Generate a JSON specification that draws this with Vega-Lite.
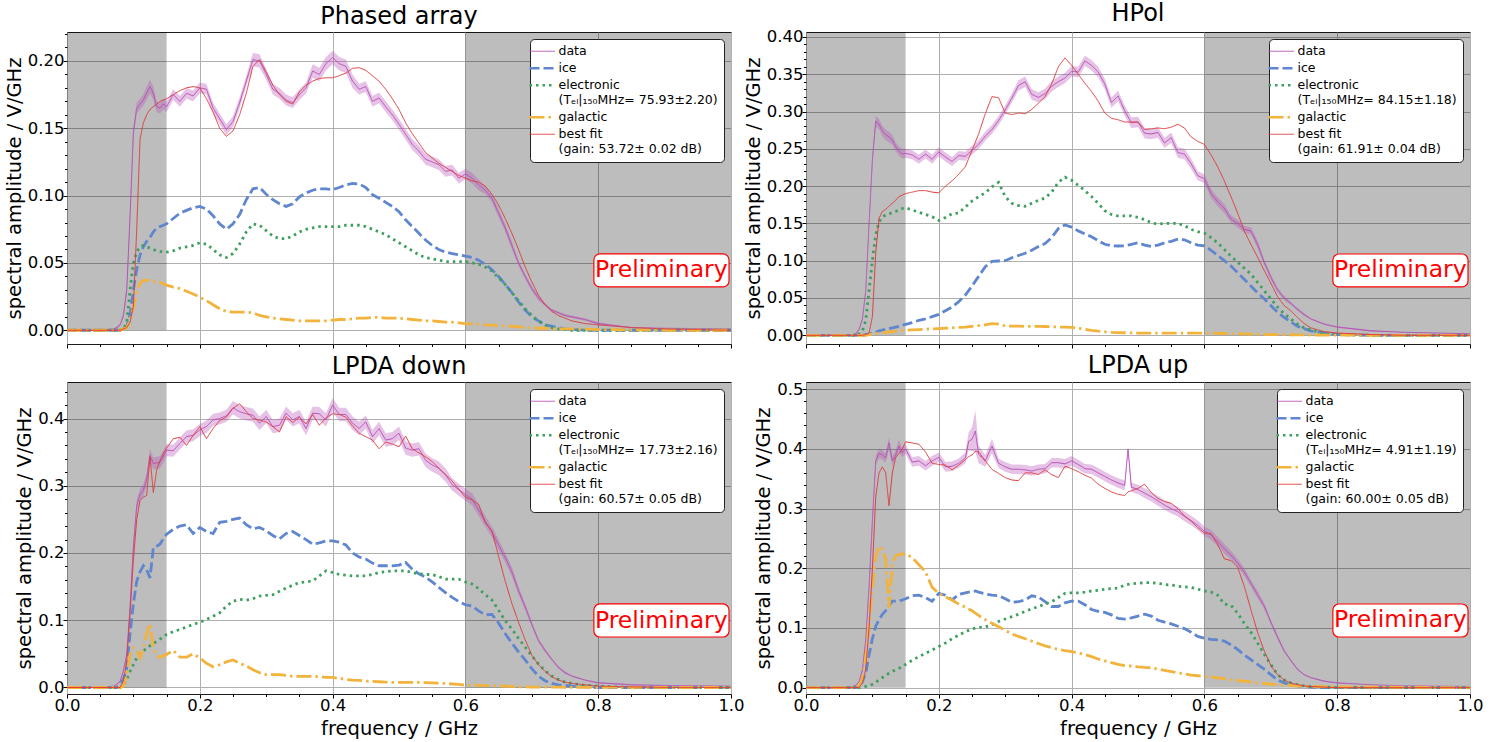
{
"$schema":"https://vega.github.io/schema/vega-lite/v6.json",
"background":"white",
"padding":{"left":3,"top":1,"right":5,"bottom":0},
"columns":2,
"spacing":{"row":38,"column":75},
"bounds":"flush",
"resolve":{"scale":{"color":"independent","strokeDash":"independent"},"legend":{"color":"independent","strokeDash":"independent"}},
"config":{
"font":"DejaVu Sans",
"view":{"stroke":"#1c1c1c","strokeWidth":1},
"axis":{"labelFont":"DejaVu Sans","labelFontSize":16.5,"labelColor":"black","titleFont":"DejaVu Sans","titleFontSize":19.5,"titleFontWeight":"normal","titleColor":"black","tickColor":"black","tickWidth":1,"domain":false,"labelOverlap":false,"labelFlush":false,"gridWidth":1},
"axisX":{"titlePadding":6,"labelPadding":-1},
"axisY":{"titlePadding":3,"labelPadding":-1},
"title":{"font":"DejaVu Sans","fontSize":24,"fontWeight":"normal","color":"black","offset":3,"baseline":"alphabetic"},
"legend":{"orient":"top-right","offset":7,"fillColor":"white","strokeColor":"#222","cornerRadius":4,"padding":6,"symbolType":"stroke","symbolSize":650,"labelFont":"DejaVu Sans","labelFontSize":12.5,"labelColor":"black","rowPadding":4,"labelOffset":10,"labelLimit":400}
},
"datasets":{
"spans":[{"x1":0,"x2":0.15,"y1":0,"y2":1},{"x1":0.6,"x2":1,"y1":0,"y2":1}],
"pa":[
{"f":0,"d":0,"s":0,"i":0,"e":0,"g":0,"b":0},
{"f":0.04,"d":0,"s":0,"i":0,"e":0,"g":0,"b":0},
{"f":0.06,"d":0.0005,"s":0,"i":0,"e":0,"g":0,"b":0},
{"f":0.07,"d":0.001,"s":0,"i":0,"e":0,"g":0,"b":0},
{"f":0.075,"d":0.002,"s":0.001,"i":0,"e":0,"g":0,"b":0},
{"f":0.08,"d":0.004,"s":0.001,"i":0,"e":0,"g":0,"b":0},
{"f":0.085,"d":0.011,"s":0.002,"i":0.001,"e":0.001,"g":0.001,"b":0.001},
{"f":0.09,"d":0.03,"s":0.003,"i":0.003,"e":0.006,"g":0.002,"b":0.002},
{"f":0.095,"d":0.085,"s":0.004,"i":0.012,"e":0.03,"g":0.007,"b":0.006},
{"f":0.1,"d":0.147,"s":0.004,"i":0.03,"e":0.05,"g":0.017,"b":0.018},
{"f":0.105,"d":0.165,"s":0.004,"i":0.045,"e":0.058,"g":0.028,"b":0.075},
{"f":0.11,"d":0.168,"s":0.004,"i":0.056,"e":0.062,"g":0.035,"b":0.142},
{"f":0.115,"d":0.171,"s":0.004,"i":0.062,"e":0.063,"g":0.037,"b":0.154},
{"f":0.12,"d":0.176,"s":0.005,"i":0.066,"e":0.062,"g":0.037,"b":0.16},
{"f":0.125,"d":0.181,"s":0.005,"i":0.069,"e":0.061,"g":0.037,"b":0.164},
{"f":0.13,"d":0.176,"s":0.005,"i":0.073,"e":0.06,"g":0.0365,"b":0.166},
{"f":0.135,"d":0.166,"s":0.004,"i":0.076,"e":0.059,"g":0.036,"b":0.168},
{"f":0.14,"d":0.165,"s":0.004,"i":0.077,"e":0.0585,"g":0.0355,"b":0.17},
{"f":0.145,"d":0.168,"s":0.004,"i":0.078,"e":0.058,"g":0.0345,"b":0.171},
{"f":0.15,"d":0.166,"s":0.004,"i":0.079,"e":0.058,"g":0.0335,"b":0.172},
{"f":0.16,"d":0.175,"s":0.004,"i":0.083,"e":0.059,"g":0.032,"b":0.175},
{"f":0.17,"d":0.17,"s":0.004,"i":0.087,"e":0.061,"g":0.031,"b":0.178},
{"f":0.18,"d":0.176,"s":0.004,"i":0.089,"e":0.062,"g":0.029,"b":0.18},
{"f":0.19,"d":0.174,"s":0.004,"i":0.091,"e":0.063,"g":0.027,"b":0.181},
{"f":0.2,"d":0.18,"s":0.004,"i":0.092,"e":0.065,"g":0.0245,"b":0.18},
{"f":0.21,"d":0.179,"s":0.004,"i":0.09,"e":0.064,"g":0.022,"b":0.172},
{"f":0.22,"d":0.165,"s":0.004,"i":0.085,"e":0.06,"g":0.019,"b":0.162},
{"f":0.23,"d":0.157,"s":0.004,"i":0.079,"e":0.056,"g":0.016,"b":0.15},
{"f":0.24,"d":0.149,"s":0.004,"i":0.075,"e":0.054,"g":0.014,"b":0.144},
{"f":0.25,"d":0.155,"s":0.004,"i":0.079,"e":0.057,"g":0.0135,"b":0.148},
{"f":0.26,"d":0.169,"s":0.004,"i":0.086,"e":0.064,"g":0.0135,"b":0.16},
{"f":0.27,"d":0.185,"s":0.004,"i":0.097,"e":0.073,"g":0.0135,"b":0.176},
{"f":0.28,"d":0.201,"s":0.005,"i":0.105,"e":0.079,"g":0.013,"b":0.196},
{"f":0.29,"d":0.2,"s":0.005,"i":0.106,"e":0.078,"g":0.011,"b":0.201},
{"f":0.3,"d":0.19,"s":0.004,"i":0.101,"e":0.074,"g":0.01,"b":0.192},
{"f":0.31,"d":0.179,"s":0.004,"i":0.097,"e":0.07,"g":0.009,"b":0.182},
{"f":0.32,"d":0.176,"s":0.004,"i":0.094,"e":0.068,"g":0.0085,"b":0.175},
{"f":0.33,"d":0.171,"s":0.004,"i":0.092,"e":0.068,"g":0.008,"b":0.17},
{"f":0.34,"d":0.169,"s":0.004,"i":0.094,"e":0.07,"g":0.0075,"b":0.168},
{"f":0.35,"d":0.175,"s":0.004,"i":0.099,"e":0.073,"g":0.007,"b":0.177},
{"f":0.36,"d":0.18,"s":0.004,"i":0.102,"e":0.075,"g":0.007,"b":0.182},
{"f":0.37,"d":0.1925,"s":0.005,"i":0.104,"e":0.076,"g":0.007,"b":0.185},
{"f":0.38,"d":0.19,"s":0.005,"i":0.105,"e":0.077,"g":0.007,"b":0.187},
{"f":0.39,"d":0.198,"s":0.005,"i":0.105,"e":0.077,"g":0.007,"b":0.1875},
{"f":0.4,"d":0.2025,"s":0.005,"i":0.1045,"e":0.077,"g":0.0075,"b":0.1875},
{"f":0.41,"d":0.198,"s":0.005,"i":0.106,"e":0.077,"g":0.008,"b":0.189},
{"f":0.42,"d":0.196,"s":0.005,"i":0.108,"e":0.078,"g":0.008,"b":0.191},
{"f":0.43,"d":0.185,"s":0.005,"i":0.109,"e":0.078,"g":0.0085,"b":0.1945},
{"f":0.44,"d":0.179,"s":0.004,"i":0.1087,"e":0.078,"g":0.009,"b":0.195},
{"f":0.45,"d":0.181,"s":0.004,"i":0.106,"e":0.077,"g":0.009,"b":0.193},
{"f":0.46,"d":0.17,"s":0.004,"i":0.1007,"e":0.075,"g":0.0095,"b":0.189},
{"f":0.47,"d":0.1725,"s":0.004,"i":0.098,"e":0.073,"g":0.0095,"b":0.185},
{"f":0.48,"d":0.166,"s":0.004,"i":0.095,"e":0.071,"g":0.009,"b":0.179},
{"f":0.49,"d":0.16,"s":0.004,"i":0.092,"e":0.068,"g":0.009,"b":0.172},
{"f":0.5,"d":0.153,"s":0.004,"i":0.088,"e":0.065,"g":0.009,"b":0.164},
{"f":0.51,"d":0.1455,"s":0.004,"i":0.082,"e":0.062,"g":0.0085,"b":0.154},
{"f":0.52,"d":0.138,"s":0.004,"i":0.077,"e":0.059,"g":0.008,"b":0.146},
{"f":0.53,"d":0.133,"s":0.004,"i":0.072,"e":0.056,"g":0.0075,"b":0.139},
{"f":0.54,"d":0.127,"s":0.004,"i":0.067,"e":0.054,"g":0.007,"b":0.132},
{"f":0.55,"d":0.125,"s":0.004,"i":0.063,"e":0.053,"g":0.007,"b":0.128},
{"f":0.56,"d":0.123,"s":0.004,"i":0.06,"e":0.052,"g":0.0065,"b":0.124},
{"f":0.57,"d":0.118,"s":0.004,"i":0.058,"e":0.051,"g":0.006,"b":0.121},
{"f":0.58,"d":0.119,"s":0.004,"i":0.057,"e":0.051,"g":0.006,"b":0.118},
{"f":0.59,"d":0.113,"s":0.004,"i":0.056,"e":0.051,"g":0.0055,"b":0.115},
{"f":0.6,"d":0.116,"s":0.004,"i":0.055,"e":0.051,"g":0.005,"b":0.113},
{"f":0.61,"d":0.113,"s":0.004,"i":0.054,"e":0.05,"g":0.0048,"b":0.111},
{"f":0.62,"d":0.108,"s":0.004,"i":0.052,"e":0.049,"g":0.0045,"b":0.11},
{"f":0.63,"d":0.104,"s":0.003,"i":0.049,"e":0.047,"g":0.004,"b":0.107},
{"f":0.64,"d":0.098,"s":0.003,"i":0.045,"e":0.044,"g":0.0038,"b":0.101},
{"f":0.65,"d":0.087,"s":0.003,"i":0.04,"e":0.039,"g":0.0035,"b":0.093},
{"f":0.66,"d":0.076,"s":0.003,"i":0.034,"e":0.034,"g":0.003,"b":0.083},
{"f":0.67,"d":0.063,"s":0.003,"i":0.028,"e":0.028,"g":0.003,"b":0.072},
{"f":0.68,"d":0.05,"s":0.002,"i":0.021,"e":0.022,"g":0.0025,"b":0.06},
{"f":0.69,"d":0.04,"s":0.002,"i":0.015,"e":0.016,"g":0.002,"b":0.047},
{"f":0.7,"d":0.031,"s":0.002,"i":0.01,"e":0.011,"g":0.002,"b":0.036},
{"f":0.71,"d":0.024,"s":0.002,"i":0.007,"e":0.007,"g":0.0015,"b":0.026},
{"f":0.72,"d":0.019,"s":0.001,"i":0.004,"e":0.004,"g":0.0015,"b":0.019},
{"f":0.73,"d":0.015,"s":0.001,"i":0.003,"e":0.002,"g":0.001,"b":0.014},
{"f":0.74,"d":0.013,"s":0.001,"i":0.002,"e":0.001,"g":0.001,"b":0.011},
{"f":0.75,"d":0.011,"s":0.001,"i":0.001,"e":0.0005,"g":0.001,"b":0.009},
{"f":0.76,"d":0.01,"s":0.001,"i":0.0005,"e":0,"g":0.001,"b":0.007},
{"f":0.78,"d":0.008,"s":0.001,"i":0,"e":0,"g":0.0008,"b":0.005},
{"f":0.8,"d":0.005,"s":0.001,"i":0,"e":0,"g":0.0005,"b":0.004},
{"f":0.85,"d":0.002,"s":0,"i":0,"e":0,"g":0.0003,"b":0.002},
{"f":0.9,"d":0.0015,"s":0,"i":0,"e":0,"g":0,"b":0.001},
{"f":1,"d":0.001,"s":0,"i":0,"e":0,"g":0,"b":0}
],
"hp":[
{"f":0,"d":0,"s":0,"i":0,"e":0,"g":0,"b":0},
{"f":0.04,"d":0,"s":0,"i":0,"e":0,"g":0,"b":0},
{"f":0.06,"d":0,"s":0,"i":0,"e":0,"g":0,"b":0},
{"f":0.07,"d":0.001,"s":0,"i":0,"e":0,"g":0,"b":0},
{"f":0.075,"d":0.002,"s":0.001,"i":0,"e":0,"g":0,"b":0},
{"f":0.08,"d":0.008,"s":0.001,"i":0,"e":0.002,"g":0,"b":0},
{"f":0.085,"d":0.022,"s":0.002,"i":0,"e":0.006,"g":0,"b":0},
{"f":0.09,"d":0.06,"s":0.003,"i":0.001,"e":0.02,"g":0,"b":0.001},
{"f":0.095,"d":0.15,"s":0.005,"i":0.002,"e":0.06,"g":0.001,"b":0.003},
{"f":0.1,"d":0.235,"s":0.006,"i":0.003,"e":0.1,"g":0.0015,"b":0.025},
{"f":0.105,"d":0.287,"s":0.007,"i":0.004,"e":0.135,"g":0.002,"b":0.11},
{"f":0.11,"d":0.283,"s":0.007,"i":0.006,"e":0.152,"g":0.003,"b":0.157},
{"f":0.115,"d":0.274,"s":0.007,"i":0.007,"e":0.159,"g":0.0035,"b":0.166},
{"f":0.12,"d":0.269,"s":0.007,"i":0.008,"e":0.161,"g":0.004,"b":0.169},
{"f":0.125,"d":0.266,"s":0.007,"i":0.009,"e":0.163,"g":0.0045,"b":0.173},
{"f":0.13,"d":0.262,"s":0.007,"i":0.01,"e":0.164,"g":0.005,"b":0.177},
{"f":0.135,"d":0.253,"s":0.006,"i":0.011,"e":0.166,"g":0.0055,"b":0.181},
{"f":0.14,"d":0.247,"s":0.006,"i":0.012,"e":0.168,"g":0.006,"b":0.186},
{"f":0.145,"d":0.243,"s":0.006,"i":0.0135,"e":0.17,"g":0.0063,"b":0.188},
{"f":0.15,"d":0.244,"s":0.006,"i":0.0147,"e":0.171,"g":0.0067,"b":0.19},
{"f":0.16,"d":0.242,"s":0.006,"i":0.017,"e":0.168,"g":0.0072,"b":0.192},
{"f":0.17,"d":0.236,"s":0.006,"i":0.02,"e":0.165,"g":0.0077,"b":0.194},
{"f":0.18,"d":0.243,"s":0.006,"i":0.022,"e":0.162,"g":0.0082,"b":0.194},
{"f":0.19,"d":0.236,"s":0.006,"i":0.025,"e":0.159,"g":0.0086,"b":0.192},
{"f":0.2,"d":0.246,"s":0.006,"i":0.028,"e":0.154,"g":0.009,"b":0.191},
{"f":0.21,"d":0.239,"s":0.006,"i":0.033,"e":0.158,"g":0.0095,"b":0.2},
{"f":0.22,"d":0.233,"s":0.006,"i":0.038,"e":0.163,"g":0.01,"b":0.207},
{"f":0.23,"d":0.241,"s":0.006,"i":0.045,"e":0.164,"g":0.0105,"b":0.216},
{"f":0.24,"d":0.24,"s":0.006,"i":0.054,"e":0.172,"g":0.011,"b":0.226},
{"f":0.25,"d":0.248,"s":0.006,"i":0.066,"e":0.18,"g":0.012,"b":0.248},
{"f":0.26,"d":0.256,"s":0.006,"i":0.079,"e":0.186,"g":0.013,"b":0.27},
{"f":0.27,"d":0.267,"s":0.006,"i":0.092,"e":0.191,"g":0.014,"b":0.297},
{"f":0.28,"d":0.276,"s":0.006,"i":0.099,"e":0.199,"g":0.0155,"b":0.32},
{"f":0.29,"d":0.288,"s":0.006,"i":0.0996,"e":0.205,"g":0.015,"b":0.3186},
{"f":0.3,"d":0.302,"s":0.006,"i":0.1,"e":0.186,"g":0.0125,"b":0.298},
{"f":0.31,"d":0.318,"s":0.006,"i":0.104,"e":0.177,"g":0.0123,"b":0.296},
{"f":0.32,"d":0.335,"s":0.007,"i":0.107,"e":0.174,"g":0.0122,"b":0.298},
{"f":0.33,"d":0.34,"s":0.007,"i":0.11,"e":0.173,"g":0.012,"b":0.297},
{"f":0.34,"d":0.323,"s":0.007,"i":0.114,"e":0.177,"g":0.012,"b":0.303},
{"f":0.35,"d":0.319,"s":0.007,"i":0.119,"e":0.181,"g":0.012,"b":0.311},
{"f":0.36,"d":0.324,"s":0.007,"i":0.123,"e":0.184,"g":0.0118,"b":0.32},
{"f":0.37,"d":0.334,"s":0.007,"i":0.131,"e":0.192,"g":0.0115,"b":0.337},
{"f":0.38,"d":0.34,"s":0.007,"i":0.143,"e":0.205,"g":0.011,"b":0.36},
{"f":0.39,"d":0.345,"s":0.007,"i":0.148,"e":0.212,"g":0.011,"b":0.372},
{"f":0.4,"d":0.354,"s":0.007,"i":0.145,"e":0.208,"g":0.0105,"b":0.362},
{"f":0.41,"d":0.353,"s":0.007,"i":0.14,"e":0.201,"g":0.0095,"b":0.35},
{"f":0.42,"d":0.368,"s":0.007,"i":0.136,"e":0.194,"g":0.008,"b":0.338},
{"f":0.43,"d":0.362,"s":0.007,"i":0.132,"e":0.186,"g":0.0065,"b":0.327},
{"f":0.44,"d":0.353,"s":0.007,"i":0.127,"e":0.177,"g":0.0055,"b":0.314},
{"f":0.45,"d":0.337,"s":0.007,"i":0.122,"e":0.167,"g":0.0047,"b":0.298},
{"f":0.46,"d":0.312,"s":0.007,"i":0.12,"e":0.162,"g":0.004,"b":0.291},
{"f":0.47,"d":0.321,"s":0.007,"i":0.1197,"e":0.16,"g":0.0036,"b":0.289},
{"f":0.48,"d":0.301,"s":0.007,"i":0.12,"e":0.16,"g":0.0034,"b":0.286},
{"f":0.49,"d":0.285,"s":0.007,"i":0.122,"e":0.16,"g":0.0032,"b":0.286},
{"f":0.5,"d":0.286,"s":0.007,"i":0.124,"e":0.158,"g":0.003,"b":0.286},
{"f":0.51,"d":0.271,"s":0.007,"i":0.121,"e":0.155,"g":0.003,"b":0.276},
{"f":0.52,"d":0.27,"s":0.007,"i":0.119,"e":0.151,"g":0.003,"b":0.277},
{"f":0.53,"d":0.272,"s":0.007,"i":0.121,"e":0.149,"g":0.003,"b":0.278},
{"f":0.54,"d":0.258,"s":0.007,"i":0.124,"e":0.15,"g":0.003,"b":0.277},
{"f":0.55,"d":0.265,"s":0.007,"i":0.126,"e":0.15,"g":0.003,"b":0.279},
{"f":0.56,"d":0.245,"s":0.007,"i":0.129,"e":0.15,"g":0.003,"b":0.283},
{"f":0.57,"d":0.243,"s":0.007,"i":0.128,"e":0.147,"g":0.003,"b":0.278},
{"f":0.58,"d":0.23,"s":0.007,"i":0.124,"e":0.142,"g":0.003,"b":0.266},
{"f":0.59,"d":0.214,"s":0.006,"i":0.121,"e":0.139,"g":0.003,"b":0.26},
{"f":0.6,"d":0.21,"s":0.006,"i":0.12,"e":0.137,"g":0.003,"b":0.256},
{"f":0.61,"d":0.19,"s":0.006,"i":0.114,"e":0.131,"g":0.0028,"b":0.242},
{"f":0.62,"d":0.179,"s":0.006,"i":0.107,"e":0.124,"g":0.0026,"b":0.226},
{"f":0.63,"d":0.17,"s":0.006,"i":0.1,"e":0.115,"g":0.0024,"b":0.207},
{"f":0.64,"d":0.156,"s":0.005,"i":0.093,"e":0.106,"g":0.0022,"b":0.186},
{"f":0.65,"d":0.15,"s":0.005,"i":0.084,"e":0.098,"g":0.002,"b":0.164},
{"f":0.66,"d":0.142,"s":0.005,"i":0.075,"e":0.09,"g":0.0018,"b":0.14},
{"f":0.67,"d":0.14,"s":0.005,"i":0.066,"e":0.082,"g":0.0016,"b":0.122},
{"f":0.68,"d":0.122,"s":0.005,"i":0.057,"e":0.071,"g":0.0014,"b":0.105},
{"f":0.69,"d":0.098,"s":0.004,"i":0.049,"e":0.06,"g":0.0012,"b":0.087},
{"f":0.7,"d":0.078,"s":0.004,"i":0.04,"e":0.049,"g":0.001,"b":0.07},
{"f":0.71,"d":0.061,"s":0.003,"i":0.031,"e":0.038,"g":0.001,"b":0.052},
{"f":0.72,"d":0.05,"s":0.003,"i":0.024,"e":0.029,"g":0.0008,"b":0.04},
{"f":0.73,"d":0.043,"s":0.002,"i":0.018,"e":0.022,"g":0.0007,"b":0.033},
{"f":0.74,"d":0.035,"s":0.002,"i":0.012,"e":0.015,"g":0.0006,"b":0.024},
{"f":0.75,"d":0.028,"s":0.002,"i":0.009,"e":0.01,"g":0.0005,"b":0.016},
{"f":0.76,"d":0.022,"s":0.001,"i":0.006,"e":0.007,"g":0.0004,"b":0.01},
{"f":0.78,"d":0.015,"s":0.001,"i":0.003,"e":0.003,"g":0.0003,"b":0.005},
{"f":0.8,"d":0.011,"s":0.001,"i":0.001,"e":0.001,"g":0.0002,"b":0.003},
{"f":0.85,"d":0.006,"s":0.001,"i":0,"e":0,"g":0,"b":0.001},
{"f":0.9,"d":0.004,"s":0,"i":0,"e":0,"g":0,"b":0},
{"f":1,"d":0.002,"s":0,"i":0,"e":0,"g":0,"b":0}
],
"ld":[
{"f":0,"d":0,"s":0,"i":0,"e":0,"g":0,"b":0},
{"f":0.04,"d":0,"s":0,"i":0,"e":0,"g":0,"b":0},
{"f":0.06,"d":0.001,"s":0,"i":0,"e":0,"g":0,"b":0},
{"f":0.07,"d":0.002,"s":0,"i":0,"e":0,"g":0,"b":0},
{"f":0.075,"d":0.005,"s":0.001,"i":0,"e":0,"g":0,"b":0},
{"f":0.08,"d":0.009,"s":0.001,"i":0.005,"e":0,"g":0,"b":0},
{"f":0.085,"d":0.025,"s":0.002,"i":0.012,"e":0.004,"g":0.002,"b":0.01},
{"f":0.09,"d":0.049,"s":0.003,"i":0.029,"e":0.012,"g":0.019,"b":0.04},
{"f":0.095,"d":0.12,"s":0.006,"i":0.08,"e":0.024,"g":0.05,"b":0.109},
{"f":0.1,"d":0.21,"s":0.008,"i":0.125,"e":0.034,"g":0.059,"b":0.19},
{"f":0.105,"d":0.27,"s":0.009,"i":0.158,"e":0.044,"g":0.055,"b":0.25},
{"f":0.11,"d":0.287,"s":0.009,"i":0.172,"e":0.049,"g":0.044,"b":0.278},
{"f":0.115,"d":0.293,"s":0.009,"i":0.181,"e":0.054,"g":0.06,"b":0.283},
{"f":0.12,"d":0.31,"s":0.009,"i":0.175,"e":0.0588,"g":0.08,"b":0.2855},
{"f":0.125,"d":0.345,"s":0.01,"i":0.163,"e":0.062,"g":0.095,"b":0.343},
{"f":0.13,"d":0.333,"s":0.009,"i":0.208,"e":0.065,"g":0.059,"b":0.29},
{"f":0.135,"d":0.334,"s":0.009,"i":0.21,"e":0.0688,"g":0.047,"b":0.323},
{"f":0.14,"d":0.335,"s":0.009,"i":0.213,"e":0.072,"g":0.045,"b":0.337},
{"f":0.145,"d":0.343,"s":0.009,"i":0.221,"e":0.075,"g":0.047,"b":0.348},
{"f":0.15,"d":0.353,"s":0.009,"i":0.228,"e":0.0788,"g":0.049,"b":0.356},
{"f":0.16,"d":0.352,"s":0.009,"i":0.235,"e":0.083,"g":0.055,"b":0.37},
{"f":0.17,"d":0.363,"s":0.009,"i":0.24,"e":0.0862,"g":0.045,"b":0.372},
{"f":0.18,"d":0.373,"s":0.009,"i":0.242,"e":0.09,"g":0.045,"b":0.36},
{"f":0.19,"d":0.375,"s":0.009,"i":0.229,"e":0.0937,"g":0.05,"b":0.375},
{"f":0.2,"d":0.383,"s":0.009,"i":0.238,"e":0.097,"g":0.044,"b":0.388},
{"f":0.21,"d":0.388,"s":0.009,"i":0.232,"e":0.1012,"g":0.036,"b":0.37},
{"f":0.22,"d":0.398,"s":0.009,"i":0.229,"e":0.106,"g":0.031,"b":0.385},
{"f":0.23,"d":0.4,"s":0.009,"i":0.2456,"e":0.111,"g":0.034,"b":0.397},
{"f":0.24,"d":0.404,"s":0.009,"i":0.247,"e":0.121,"g":0.038,"b":0.402},
{"f":0.25,"d":0.416,"s":0.01,"i":0.25,"e":0.128,"g":0.041,"b":0.415},
{"f":0.26,"d":0.41,"s":0.01,"i":0.252,"e":0.131,"g":0.036,"b":0.422},
{"f":0.27,"d":0.407,"s":0.01,"i":0.242,"e":0.13,"g":0.032,"b":0.41},
{"f":0.28,"d":0.405,"s":0.01,"i":0.236,"e":0.132,"g":0.0264,"b":0.4},
{"f":0.29,"d":0.393,"s":0.01,"i":0.238,"e":0.136,"g":0.022,"b":0.3976},
{"f":0.3,"d":0.403,"s":0.01,"i":0.233,"e":0.137,"g":0.019,"b":0.395},
{"f":0.31,"d":0.388,"s":0.01,"i":0.226,"e":0.138,"g":0.019,"b":0.388},
{"f":0.32,"d":0.39,"s":0.01,"i":0.221,"e":0.143,"g":0.019,"b":0.38},
{"f":0.33,"d":0.408,"s":0.01,"i":0.229,"e":0.148,"g":0.018,"b":0.4026},
{"f":0.34,"d":0.398,"s":0.01,"i":0.232,"e":0.152,"g":0.0165,"b":0.394},
{"f":0.35,"d":0.403,"s":0.01,"i":0.226,"e":0.156,"g":0.0165,"b":0.402},
{"f":0.36,"d":0.385,"s":0.01,"i":0.22,"e":0.157,"g":0.0165,"b":0.392},
{"f":0.37,"d":0.408,"s":0.01,"i":0.213,"e":0.1585,"g":0.0165,"b":0.406},
{"f":0.38,"d":0.407,"s":0.01,"i":0.215,"e":0.166,"g":0.016,"b":0.39},
{"f":0.39,"d":0.398,"s":0.01,"i":0.218,"e":0.1734,"g":0.015,"b":0.401},
{"f":0.4,"d":0.42,"s":0.01,"i":0.218,"e":0.171,"g":0.015,"b":0.407},
{"f":0.41,"d":0.406,"s":0.01,"i":0.216,"e":0.168,"g":0.0135,"b":0.406},
{"f":0.42,"d":0.406,"s":0.01,"i":0.212,"e":0.167,"g":0.012,"b":0.402},
{"f":0.43,"d":0.393,"s":0.01,"i":0.2,"e":0.166,"g":0.011,"b":0.389},
{"f":0.44,"d":0.385,"s":0.01,"i":0.194,"e":0.166,"g":0.0105,"b":0.378},
{"f":0.45,"d":0.395,"s":0.01,"i":0.191,"e":0.166,"g":0.0095,"b":0.373},
{"f":0.46,"d":0.373,"s":0.01,"i":0.185,"e":0.168,"g":0.009,"b":0.368},
{"f":0.47,"d":0.385,"s":0.01,"i":0.181,"e":0.171,"g":0.0085,"b":0.355},
{"f":0.48,"d":0.368,"s":0.01,"i":0.181,"e":0.172,"g":0.008,"b":0.365},
{"f":0.49,"d":0.37,"s":0.01,"i":0.181,"e":0.1734,"g":0.0075,"b":0.362},
{"f":0.5,"d":0.378,"s":0.01,"i":0.182,"e":0.1734,"g":0.0075,"b":0.358},
{"f":0.51,"d":0.356,"s":0.01,"i":0.186,"e":0.1734,"g":0.0075,"b":0.374},
{"f":0.52,"d":0.353,"s":0.01,"i":0.176,"e":0.171,"g":0.0075,"b":0.355},
{"f":0.53,"d":0.355,"s":0.01,"i":0.169,"e":0.169,"g":0.0075,"b":0.349},
{"f":0.54,"d":0.338,"s":0.01,"i":0.164,"e":0.168,"g":0.0072,"b":0.343},
{"f":0.55,"d":0.331,"s":0.01,"i":0.157,"e":0.168,"g":0.0068,"b":0.336},
{"f":0.56,"d":0.326,"s":0.01,"i":0.149,"e":0.165,"g":0.0064,"b":0.326},
{"f":0.57,"d":0.316,"s":0.01,"i":0.141,"e":0.161,"g":0.006,"b":0.317},
{"f":0.58,"d":0.302,"s":0.009,"i":0.134,"e":0.161,"g":0.0052,"b":0.307},
{"f":0.59,"d":0.294,"s":0.009,"i":0.128,"e":0.161,"g":0.0045,"b":0.295},
{"f":0.6,"d":0.287,"s":0.009,"i":0.123,"e":0.157,"g":0.0035,"b":0.283},
{"f":0.61,"d":0.28,"s":0.009,"i":0.121,"e":0.154,"g":0.0032,"b":0.279},
{"f":0.62,"d":0.264,"s":0.009,"i":0.114,"e":0.147,"g":0.003,"b":0.272},
{"f":0.63,"d":0.247,"s":0.008,"i":0.108,"e":0.138,"g":0.0028,"b":0.245},
{"f":0.64,"d":0.231,"s":0.008,"i":0.1087,"e":0.13,"g":0.0025,"b":0.233},
{"f":0.65,"d":0.212,"s":0.008,"i":0.096,"e":0.115,"g":0.0022,"b":0.195},
{"f":0.66,"d":0.193,"s":0.007,"i":0.08,"e":0.099,"g":0.002,"b":0.158},
{"f":0.67,"d":0.172,"s":0.007,"i":0.066,"e":0.087,"g":0.0015,"b":0.125},
{"f":0.68,"d":0.144,"s":0.006,"i":0.053,"e":0.073,"g":0.001,"b":0.097},
{"f":0.69,"d":0.12,"s":0.005,"i":0.041,"e":0.06,"g":0.0008,"b":0.071},
{"f":0.7,"d":0.094,"s":0.004,"i":0.028,"e":0.047,"g":0.0006,"b":0.048},
{"f":0.71,"d":0.07,"s":0.003,"i":0.017,"e":0.035,"g":0.0005,"b":0.034},
{"f":0.72,"d":0.055,"s":0.003,"i":0.01,"e":0.025,"g":0.0005,"b":0.024},
{"f":0.73,"d":0.042,"s":0.002,"i":0.006,"e":0.017,"g":0.0004,"b":0.016},
{"f":0.74,"d":0.03,"s":0.002,"i":0.004,"e":0.012,"g":0.0004,"b":0.011},
{"f":0.75,"d":0.022,"s":0.002,"i":0.003,"e":0.008,"g":0.0003,"b":0.008},
{"f":0.76,"d":0.017,"s":0.001,"i":0.002,"e":0.006,"g":0.0003,"b":0.006},
{"f":0.78,"d":0.011,"s":0.001,"i":0.001,"e":0.003,"g":0.0002,"b":0.004},
{"f":0.8,"d":0.007,"s":0.001,"i":0,"e":0.002,"g":0.0002,"b":0.002},
{"f":0.85,"d":0.004,"s":0.001,"i":0,"e":0,"g":0.0001,"b":0.001},
{"f":0.9,"d":0.003,"s":0,"i":0,"e":0,"g":0,"b":0},
{"f":1,"d":0.002,"s":0,"i":0,"e":0,"g":0,"b":0}
],
"lu":[
{"f":0,"d":0,"s":0,"i":0,"e":0,"g":0,"b":0},
{"f":0.04,"d":0,"s":0,"i":0,"e":0,"g":0,"b":0},
{"f":0.06,"d":0.001,"s":0,"i":0,"e":0,"g":0,"b":0},
{"f":0.07,"d":0.002,"s":0,"i":0,"e":0,"g":0,"b":0},
{"f":0.075,"d":0.004,"s":0.001,"i":0,"e":0,"g":0,"b":0},
{"f":0.08,"d":0.01,"s":0.001,"i":0.002,"e":0,"g":0.003,"b":0.001},
{"f":0.085,"d":0.03,"s":0.002,"i":0.01,"e":0.001,"g":0.015,"b":0.008},
{"f":0.09,"d":0.08,"s":0.004,"i":0.025,"e":0.002,"g":0.05,"b":0.03},
{"f":0.095,"d":0.17,"s":0.006,"i":0.055,"e":0.004,"g":0.105,"b":0.1},
{"f":0.1,"d":0.28,"s":0.008,"i":0.082,"e":0.0056,"g":0.17,"b":0.2},
{"f":0.105,"d":0.38,"s":0.008,"i":0.103,"e":0.009,"g":0.22,"b":0.32},
{"f":0.11,"d":0.393,"s":0.008,"i":0.114,"e":0.013,"g":0.237,"b":0.36},
{"f":0.115,"d":0.39,"s":0.008,"i":0.123,"e":0.017,"g":0.232,"b":0.37},
{"f":0.12,"d":0.385,"s":0.008,"i":0.129,"e":0.021,"g":0.215,"b":0.36},
{"f":0.125,"d":0.41,"s":0.01,"i":0.138,"e":0.024,"g":0.134,"b":0.305},
{"f":0.13,"d":0.38,"s":0.008,"i":0.145,"e":0.027,"g":0.205,"b":0.36},
{"f":0.135,"d":0.39,"s":0.008,"i":0.145,"e":0.03,"g":0.221,"b":0.386},
{"f":0.14,"d":0.405,"s":0.01,"i":0.145,"e":0.0325,"g":0.223,"b":0.392},
{"f":0.145,"d":0.394,"s":0.008,"i":0.147,"e":0.035,"g":0.224,"b":0.4},
{"f":0.15,"d":0.4,"s":0.008,"i":0.149,"e":0.039,"g":0.224,"b":0.412},
{"f":0.16,"d":0.378,"s":0.008,"i":0.154,"e":0.046,"g":0.218,"b":0.41},
{"f":0.17,"d":0.38,"s":0.008,"i":0.155,"e":0.052,"g":0.206,"b":0.408},
{"f":0.18,"d":0.372,"s":0.008,"i":0.151,"e":0.0575,"g":0.194,"b":0.395},
{"f":0.19,"d":0.38,"s":0.008,"i":0.145,"e":0.063,"g":0.168,"b":0.376},
{"f":0.2,"d":0.386,"s":0.008,"i":0.158,"e":0.069,"g":0.158,"b":0.374},
{"f":0.21,"d":0.37,"s":0.008,"i":0.155,"e":0.075,"g":0.152,"b":0.373},
{"f":0.22,"d":0.371,"s":0.008,"i":0.147,"e":0.082,"g":0.147,"b":0.365},
{"f":0.23,"d":0.376,"s":0.008,"i":0.156,"e":0.088,"g":0.14,"b":0.373},
{"f":0.24,"d":0.385,"s":0.009,"i":0.159,"e":0.094,"g":0.135,"b":0.382},
{"f":0.245,"d":0.413,"s":0.015,"i":0.16,"e":0.096,"g":0.132,"b":0.387},
{"f":0.25,"d":0.416,"s":0.02,"i":0.161,"e":0.098,"g":0.129,"b":0.39},
{"f":0.255,"d":0.43,"s":0.035,"i":0.162,"e":0.1,"g":0.125,"b":0.396},
{"f":0.26,"d":0.391,"s":0.015,"i":0.16,"e":0.101,"g":0.121,"b":0.395},
{"f":0.27,"d":0.38,"s":0.01,"i":0.157,"e":0.102,"g":0.114,"b":0.38},
{"f":0.28,"d":0.405,"s":0.012,"i":0.155,"e":0.105,"g":0.108,"b":0.366},
{"f":0.29,"d":0.376,"s":0.008,"i":0.154,"e":0.111,"g":0.102,"b":0.359},
{"f":0.3,"d":0.37,"s":0.008,"i":0.149,"e":0.115,"g":0.096,"b":0.352},
{"f":0.31,"d":0.366,"s":0.008,"i":0.143,"e":0.119,"g":0.09,"b":0.348},
{"f":0.32,"d":0.366,"s":0.008,"i":0.144,"e":0.123,"g":0.086,"b":0.347},
{"f":0.33,"d":0.365,"s":0.008,"i":0.147,"e":0.128,"g":0.082,"b":0.36},
{"f":0.34,"d":0.363,"s":0.008,"i":0.154,"e":0.132,"g":0.078,"b":0.36},
{"f":0.35,"d":0.366,"s":0.008,"i":0.152,"e":0.136,"g":0.074,"b":0.357},
{"f":0.36,"d":0.367,"s":0.008,"i":0.144,"e":0.14,"g":0.07,"b":0.365},
{"f":0.37,"d":0.377,"s":0.008,"i":0.136,"e":0.144,"g":0.067,"b":0.357},
{"f":0.38,"d":0.377,"s":0.008,"i":0.136,"e":0.151,"g":0.064,"b":0.352},
{"f":0.39,"d":0.375,"s":0.008,"i":0.142,"e":0.158,"g":0.062,"b":0.371},
{"f":0.4,"d":0.38,"s":0.008,"i":0.145,"e":0.159,"g":0.0605,"b":0.367},
{"f":0.41,"d":0.374,"s":0.008,"i":0.145,"e":0.159,"g":0.058,"b":0.362},
{"f":0.42,"d":0.367,"s":0.008,"i":0.139,"e":0.16,"g":0.0555,"b":0.356},
{"f":0.43,"d":0.366,"s":0.008,"i":0.131,"e":0.162,"g":0.052,"b":0.351},
{"f":0.44,"d":0.36,"s":0.008,"i":0.128,"e":0.163,"g":0.048,"b":0.341},
{"f":0.45,"d":0.354,"s":0.008,"i":0.126,"e":0.165,"g":0.045,"b":0.334},
{"f":0.46,"d":0.348,"s":0.008,"i":0.122,"e":0.166,"g":0.042,"b":0.328},
{"f":0.47,"d":0.343,"s":0.008,"i":0.116,"e":0.167,"g":0.039,"b":0.324},
{"f":0.48,"d":0.339,"s":0.008,"i":0.115,"e":0.172,"g":0.037,"b":0.322},
{"f":0.485,"d":0.4,"s":0.004,"i":0.116,"e":0.173,"g":0.0365,"b":0.328},
{"f":0.49,"d":0.336,"s":0.008,"i":0.117,"e":0.174,"g":0.0363,"b":0.33},
{"f":0.5,"d":0.332,"s":0.008,"i":0.12,"e":0.175,"g":0.035,"b":0.334},
{"f":0.51,"d":0.326,"s":0.008,"i":0.123,"e":0.176,"g":0.034,"b":0.341},
{"f":0.52,"d":0.32,"s":0.008,"i":0.12,"e":0.176,"g":0.0333,"b":0.327},
{"f":0.53,"d":0.313,"s":0.008,"i":0.113,"e":0.175,"g":0.031,"b":0.317},
{"f":0.54,"d":0.306,"s":0.008,"i":0.11,"e":0.173,"g":0.029,"b":0.312},
{"f":0.55,"d":0.3,"s":0.008,"i":0.107,"e":0.172,"g":0.027,"b":0.309},
{"f":0.56,"d":0.295,"s":0.008,"i":0.103,"e":0.17,"g":0.025,"b":0.3},
{"f":0.57,"d":0.287,"s":0.008,"i":0.099,"e":0.169,"g":0.023,"b":0.288},
{"f":0.58,"d":0.28,"s":0.008,"i":0.093,"e":0.168,"g":0.021,"b":0.279},
{"f":0.59,"d":0.272,"s":0.008,"i":0.086,"e":0.165,"g":0.02,"b":0.268},
{"f":0.6,"d":0.262,"s":0.008,"i":0.083,"e":0.162,"g":0.019,"b":0.259},
{"f":0.61,"d":0.256,"s":0.008,"i":0.081,"e":0.16,"g":0.018,"b":0.258},
{"f":0.62,"d":0.245,"s":0.008,"i":0.08,"e":0.155,"g":0.0165,"b":0.24},
{"f":0.63,"d":0.233,"s":0.008,"i":0.078,"e":0.14,"g":0.015,"b":0.216},
{"f":0.64,"d":0.222,"s":0.007,"i":0.072,"e":0.138,"g":0.013,"b":0.213},
{"f":0.65,"d":0.209,"s":0.007,"i":0.064,"e":0.125,"g":0.012,"b":0.202},
{"f":0.66,"d":0.194,"s":0.007,"i":0.055,"e":0.108,"g":0.011,"b":0.17},
{"f":0.67,"d":0.175,"s":0.006,"i":0.047,"e":0.093,"g":0.0095,"b":0.131},
{"f":0.68,"d":0.156,"s":0.006,"i":0.039,"e":0.075,"g":0.008,"b":0.093},
{"f":0.69,"d":0.137,"s":0.005,"i":0.031,"e":0.056,"g":0.007,"b":0.062},
{"f":0.7,"d":0.11,"s":0.004,"i":0.022,"e":0.039,"g":0.006,"b":0.037},
{"f":0.71,"d":0.085,"s":0.004,"i":0.013,"e":0.022,"g":0.005,"b":0.022},
{"f":0.72,"d":0.062,"s":0.003,"i":0.008,"e":0.013,"g":0.004,"b":0.013},
{"f":0.73,"d":0.046,"s":0.002,"i":0.005,"e":0.008,"g":0.0035,"b":0.008},
{"f":0.74,"d":0.031,"s":0.002,"i":0.003,"e":0.005,"g":0.003,"b":0.005},
{"f":0.75,"d":0.022,"s":0.001,"i":0.002,"e":0.003,"g":0.0025,"b":0.003},
{"f":0.76,"d":0.017,"s":0.001,"i":0.001,"e":0.002,"g":0.002,"b":0.002},
{"f":0.78,"d":0.011,"s":0.001,"i":0,"e":0.001,"g":0.0018,"b":0.001},
{"f":0.8,"d":0.008,"s":0.001,"i":0,"e":0,"g":0.0015,"b":0},
{"f":0.85,"d":0.005,"s":0,"i":0,"e":0,"g":0.001,"b":0},
{"f":0.9,"d":0.003,"s":0,"i":0,"e":0,"g":0.0005,"b":0},
{"f":1,"d":0.002,"s":0,"i":0,"e":0,"g":0,"b":0}
]
},
"concat":[
{
"title":{"text":"Phased array"},
"width":664,"height":312,
"resolve":{"axis":{"x":"independent","y":"independent"}},
"layer":[
{"data":{"name":"spans"},"mark":{"type":"rect","color":"black","opacity":0.26,"clip":true},
"encoding":{
"x":{"field":"x1","type":"quantitative","scale":{"domain":[0,1],"nice":false,"zero":false},"axis":{"orient":"bottom","title":null,"labels":false,"values":[0,0.2,0.4,0.6,0.8,1],"tickSize":4,"gridColor":"#b0b0b0"}},
"x2":{"field":"x2"},
"y":{"field":"y1","type":"quantitative","scale":{"domain":[-0.0102,0.2215],"nice":false,"zero":false},"axis":{"orient":"left","title":"spectral amplitude / V/GHz","values":[0,0.05,0.1,0.15,0.2],"format":".2f","tickSize":4,"gridColor":"#b0b0b0"}},
"y2":{"field":"y2"}}},
{"data":{"name":"pa"},"mark":{"type":"errorband","color":"#b650b6","opacity":0.35},
"encoding":{"x":{"field":"f","type":"quantitative","axis":{"orient":"bottom","title":null,"labels":false,"values":[0.05,0.1,0.15,0.25,0.3,0.35,0.45,0.5,0.55,0.65,0.7,0.75,0.85,0.9,0.95],"tickSize":2.5,"gridColor":"#e8e8e8"}},"y":{"field":"d","type":"quantitative","axis":{"orient":"left","title":null,"labels":false,"values":[0.01,0.02,0.03,0.04,0.06,0.07,0.08,0.09,0.11,0.12,0.13,0.14,0.16,0.17,0.18,0.19,0.21,0.22],"tickSize":2.5,"gridColor":"#e8e8e8"}},"yError":{"field":"s"}}},
{"data":{"name":"pa"},"transform":[{"fold":["d","i","e","g","b"],"as":["key","v"]}],"mark":{"type":"line","clip":true},
"encoding":{"x":{"field":"f","type":"quantitative","axis":null},"y":{"field":"v","type":"quantitative","axis":null},
"color":{"field":"key","type":"nominal","scale":{"domain":["d","i","e","g","b"],"range":["#b650b6","#5f86cf","#3f9f5f","#f2b33d","#e03a3a"]},"legend":{"title":null,"labelExpr":"datum.label=='d' ? 'data' : datum.label=='i' ? 'ice' : datum.label=='e' ? ['electronic','(Tₑₗ|₁₅₀MHz= 75.93±2.20)'] : datum.label=='g' ? 'galactic' : ['best fit','(gain: 53.72± 0.02 dB)']","encode":{"symbols":{"update":{"strokeWidth":{"signal":"datum.value=='d' || datum.value=='b' ? 1 : 2.6"}}}}}},
"strokeDash":{"field":"key","type":"nominal","scale":{"domain":["d","i","e","g","b"],"range":[[1,0],[10,4],[2.5,4],[15,4,2.5,4],[1,0]]},"legend":{"title":null,"labelExpr":"datum.label=='d' ? 'data' : datum.label=='i' ? 'ice' : datum.label=='e' ? ['electronic','(Tₑₗ|₁₅₀MHz= 75.93±2.20)'] : datum.label=='g' ? 'galactic' : ['best fit','(gain: 53.72± 0.02 dB)']","encode":{"symbols":{"update":{"strokeWidth":{"signal":"datum.value=='d' || datum.value=='b' ? 1 : 2.6"}}}}}},
"strokeWidth":{"condition":{"test":"datum.key=='d' || datum.key=='b'","value":1},"value":2.8}}},
{"data":{"values":[{"x1":0.7935,"x2":0.997,"y1":0.0322,"y2":0.0567}]},"mark":{"type":"rect","fill":"white","stroke":"red","strokeWidth":1.2,"cornerRadius":6},"encoding":{"x":{"field":"x1","type":"quantitative","axis":null},"x2":{"field":"x2"},"y":{"field":"y1","type":"quantitative","axis":null},"y2":{"field":"y2"}}},
{"data":{"values":[{"x1":0.895,"y1":0.0448,"t":"Preliminary"}]},"mark":{"type":"text","color":"red","fontSize":23.5,"font":"DejaVu Sans","align":"center","baseline":"middle"},"encoding":{"x":{"field":"x1","type":"quantitative","axis":null},"y":{"field":"y1","type":"quantitative","axis":null},"text":{"field":"t"}}}
]
},
{
"title":{"text":"HPol"},
"width":664,"height":312,
"resolve":{"axis":{"x":"independent","y":"independent"}},
"layer":[
{"data":{"name":"spans"},"mark":{"type":"rect","color":"black","opacity":0.26,"clip":true},
"encoding":{
"x":{"field":"x1","type":"quantitative","scale":{"domain":[0,1],"nice":false,"zero":false},"axis":{"orient":"bottom","title":null,"labels":false,"values":[0,0.2,0.4,0.6,0.8,1],"tickSize":4,"gridColor":"#b0b0b0"}},
"x2":{"field":"x2"},
"y":{"field":"y1","type":"quantitative","scale":{"domain":[-0.0117,0.4067],"nice":false,"zero":false},"axis":{"orient":"left","title":"spectral amplitude / V/GHz","values":[0,0.05,0.1,0.15,0.2,0.25,0.3,0.35,0.4],"format":".2f","tickSize":4,"gridColor":"#b0b0b0"}},
"y2":{"field":"y2"}}},
{"data":{"name":"hp"},"mark":{"type":"errorband","color":"#b650b6","opacity":0.35},
"encoding":{"x":{"field":"f","type":"quantitative","axis":{"orient":"bottom","title":null,"labels":false,"values":[0.05,0.1,0.15,0.25,0.3,0.35,0.45,0.5,0.55,0.65,0.7,0.75,0.85,0.9,0.95],"tickSize":2.5,"gridColor":"#e8e8e8"}},"y":{"field":"d","type":"quantitative","axis":{"orient":"left","title":null,"labels":false,"values":[0.01,0.02,0.03,0.04,0.06,0.07,0.08,0.09,0.11,0.12,0.13,0.14,0.16,0.17,0.18,0.19,0.21,0.22,0.23,0.24,0.26,0.27,0.28,0.29,0.31,0.32,0.33,0.34,0.36,0.37,0.38,0.39],"tickSize":2.5,"gridColor":"#e8e8e8"}},"yError":{"field":"s"}}},
{"data":{"name":"hp"},"transform":[{"fold":["d","i","e","g","b"],"as":["key","v"]}],"mark":{"type":"line","clip":true},
"encoding":{"x":{"field":"f","type":"quantitative","axis":null},"y":{"field":"v","type":"quantitative","axis":null},
"color":{"field":"key","type":"nominal","scale":{"domain":["d","i","e","g","b"],"range":["#b650b6","#5f86cf","#3f9f5f","#f2b33d","#e03a3a"]},"legend":{"title":null,"labelExpr":"datum.label=='d' ? 'data' : datum.label=='i' ? 'ice' : datum.label=='e' ? ['electronic','(Tₑₗ|₁₅₀MHz= 84.15±1.18)'] : datum.label=='g' ? 'galactic' : ['best fit','(gain: 61.91± 0.04 dB)']","encode":{"symbols":{"update":{"strokeWidth":{"signal":"datum.value=='d' || datum.value=='b' ? 1 : 2.6"}}}}}},
"strokeDash":{"field":"key","type":"nominal","scale":{"domain":["d","i","e","g","b"],"range":[[1,0],[10,4],[2.5,4],[15,4,2.5,4],[1,0]]},"legend":{"title":null,"labelExpr":"datum.label=='d' ? 'data' : datum.label=='i' ? 'ice' : datum.label=='e' ? ['electronic','(Tₑₗ|₁₅₀MHz= 84.15±1.18)'] : datum.label=='g' ? 'galactic' : ['best fit','(gain: 61.91± 0.04 dB)']","encode":{"symbols":{"update":{"strokeWidth":{"signal":"datum.value=='d' || datum.value=='b' ? 1 : 2.6"}}}}}},
"strokeWidth":{"condition":{"test":"datum.key=='d' || datum.key=='b'","value":1},"value":2.8}}},
{"data":{"values":[{"x1":0.7935,"x2":0.997,"y1":0.0648,"y2":0.109}]},"mark":{"type":"rect","fill":"white","stroke":"red","strokeWidth":1.2,"cornerRadius":6},"encoding":{"x":{"field":"x1","type":"quantitative","axis":null},"x2":{"field":"x2"},"y":{"field":"y1","type":"quantitative","axis":null},"y2":{"field":"y2"}}},
{"data":{"values":[{"x1":0.895,"y1":0.0872,"t":"Preliminary"}]},"mark":{"type":"text","color":"red","fontSize":23.5,"font":"DejaVu Sans","align":"center","baseline":"middle"},"encoding":{"x":{"field":"x1","type":"quantitative","axis":null},"y":{"field":"y1","type":"quantitative","axis":null},"text":{"field":"t"}}}
]
},
{
"title":{"text":"LPDA down"},
"width":664,"height":312,
"resolve":{"axis":{"x":"independent","y":"independent"}},
"layer":[
{"data":{"name":"spans"},"mark":{"type":"rect","color":"black","opacity":0.26,"clip":true},
"encoding":{
"x":{"field":"x1","type":"quantitative","scale":{"domain":[0,1],"nice":false,"zero":false},"axis":{"orient":"bottom","title":"frequency / GHz","values":[0,0.2,0.4,0.6,0.8,1],"format":".1f","tickSize":4,"gridColor":"#b0b0b0"}},
"x2":{"field":"x2"},
"y":{"field":"y1","type":"quantitative","scale":{"domain":[-0.0097,0.4543],"nice":false,"zero":false},"axis":{"orient":"left","title":"spectral amplitude / V/GHz","values":[0,0.1,0.2,0.3,0.4],"format":".1f","tickSize":4,"gridColor":"#b0b0b0"}},
"y2":{"field":"y2"}}},
{"data":{"name":"ld"},"mark":{"type":"errorband","color":"#b650b6","opacity":0.35},
"encoding":{"x":{"field":"f","type":"quantitative","axis":{"orient":"bottom","title":null,"labels":false,"values":[0.05,0.1,0.15,0.25,0.3,0.35,0.45,0.5,0.55,0.65,0.7,0.75,0.85,0.9,0.95],"tickSize":2.5,"gridColor":"#e8e8e8"}},"y":{"field":"d","type":"quantitative","axis":{"orient":"left","title":null,"labels":false,"values":[0.02,0.04,0.06,0.08,0.12,0.14,0.16,0.18,0.22,0.24,0.26,0.28,0.32,0.34,0.36,0.38,0.42,0.44],"tickSize":2.5,"gridColor":"#e8e8e8"}},"yError":{"field":"s"}}},
{"data":{"name":"ld"},"transform":[{"fold":["d","i","e","g","b"],"as":["key","v"]}],"mark":{"type":"line","clip":true},
"encoding":{"x":{"field":"f","type":"quantitative","axis":null},"y":{"field":"v","type":"quantitative","axis":null},
"color":{"field":"key","type":"nominal","scale":{"domain":["d","i","e","g","b"],"range":["#b650b6","#5f86cf","#3f9f5f","#f2b33d","#e03a3a"]},"legend":{"title":null,"labelExpr":"datum.label=='d' ? 'data' : datum.label=='i' ? 'ice' : datum.label=='e' ? ['electronic','(Tₑₗ|₁₅₀MHz= 17.73±2.16)'] : datum.label=='g' ? 'galactic' : ['best fit','(gain: 60.57± 0.05 dB)']","encode":{"symbols":{"update":{"strokeWidth":{"signal":"datum.value=='d' || datum.value=='b' ? 1 : 2.6"}}}}}},
"strokeDash":{"field":"key","type":"nominal","scale":{"domain":["d","i","e","g","b"],"range":[[1,0],[10,4],[2.5,4],[15,4,2.5,4],[1,0]]},"legend":{"title":null,"labelExpr":"datum.label=='d' ? 'data' : datum.label=='i' ? 'ice' : datum.label=='e' ? ['electronic','(Tₑₗ|₁₅₀MHz= 17.73±2.16)'] : datum.label=='g' ? 'galactic' : ['best fit','(gain: 60.57± 0.05 dB)']","encode":{"symbols":{"update":{"strokeWidth":{"signal":"datum.value=='d' || datum.value=='b' ? 1 : 2.6"}}}}}},
"strokeWidth":{"condition":{"test":"datum.key=='d' || datum.key=='b'","value":1},"value":2.8}}},
{"data":{"values":[{"x1":0.7935,"x2":0.997,"y1":0.0751,"y2":0.1242}]},"mark":{"type":"rect","fill":"white","stroke":"red","strokeWidth":1.2,"cornerRadius":6},"encoding":{"x":{"field":"x1","type":"quantitative","axis":null},"x2":{"field":"x2"},"y":{"field":"y1","type":"quantitative","axis":null},"y2":{"field":"y2"}}},
{"data":{"values":[{"x1":0.895,"y1":0.0996,"t":"Preliminary"}]},"mark":{"type":"text","color":"red","fontSize":23.5,"font":"DejaVu Sans","align":"center","baseline":"middle"},"encoding":{"x":{"field":"x1","type":"quantitative","axis":null},"y":{"field":"y1","type":"quantitative","axis":null},"text":{"field":"t"}}}
]
},
{
"title":{"text":"LPDA up"},
"width":664,"height":312,
"resolve":{"axis":{"x":"independent","y":"independent"}},
"layer":[
{"data":{"name":"spans"},"mark":{"type":"rect","color":"black","opacity":0.26,"clip":true},
"encoding":{
"x":{"field":"x1","type":"quantitative","scale":{"domain":[0,1],"nice":false,"zero":false},"axis":{"orient":"bottom","title":"frequency / GHz","values":[0,0.2,0.4,0.6,0.8,1],"format":".1f","tickSize":4,"gridColor":"#b0b0b0"}},
"x2":{"field":"x2"},
"y":{"field":"y1","type":"quantitative","scale":{"domain":[-0.0106,0.5122],"nice":false,"zero":false},"axis":{"orient":"left","title":"spectral amplitude / V/GHz","values":[0,0.1,0.2,0.3,0.4,0.5],"format":".1f","tickSize":4,"gridColor":"#b0b0b0"}},
"y2":{"field":"y2"}}},
{"data":{"name":"lu"},"mark":{"type":"errorband","color":"#b650b6","opacity":0.35},
"encoding":{"x":{"field":"f","type":"quantitative","axis":{"orient":"bottom","title":null,"labels":false,"values":[0.05,0.1,0.15,0.25,0.3,0.35,0.45,0.5,0.55,0.65,0.7,0.75,0.85,0.9,0.95],"tickSize":2.5,"gridColor":"#e8e8e8"}},"y":{"field":"d","type":"quantitative","axis":{"orient":"left","title":null,"labels":false,"values":[0.02,0.04,0.06,0.08,0.12,0.14,0.16,0.18,0.22,0.24,0.26,0.28,0.32,0.34,0.36,0.38,0.42,0.44,0.46,0.48],"tickSize":2.5,"gridColor":"#e8e8e8"}},"yError":{"field":"s"}}},
{"data":{"name":"lu"},"transform":[{"fold":["d","i","e","g","b"],"as":["key","v"]}],"mark":{"type":"line","clip":true},
"encoding":{"x":{"field":"f","type":"quantitative","axis":null},"y":{"field":"v","type":"quantitative","axis":null},
"color":{"field":"key","type":"nominal","scale":{"domain":["d","i","e","g","b"],"range":["#b650b6","#5f86cf","#3f9f5f","#f2b33d","#e03a3a"]},"legend":{"title":null,"labelExpr":"datum.label=='d' ? 'data' : datum.label=='i' ? 'ice' : datum.label=='e' ? ['electronic','(Tₑₗ|₁₅₀MHz= 4.91±1.19)'] : datum.label=='g' ? 'galactic' : ['best fit','(gain: 60.00± 0.05 dB)']","encode":{"symbols":{"update":{"strokeWidth":{"signal":"datum.value=='d' || datum.value=='b' ? 1 : 2.6"}}}}}},
"strokeDash":{"field":"key","type":"nominal","scale":{"domain":["d","i","e","g","b"],"range":[[1,0],[10,4],[2.5,4],[15,4,2.5,4],[1,0]]},"legend":{"title":null,"labelExpr":"datum.label=='d' ? 'data' : datum.label=='i' ? 'ice' : datum.label=='e' ? ['electronic','(Tₑₗ|₁₅₀MHz= 4.91±1.19)'] : datum.label=='g' ? 'galactic' : ['best fit','(gain: 60.00± 0.05 dB)']","encode":{"symbols":{"update":{"strokeWidth":{"signal":"datum.value=='d' || datum.value=='b' ? 1 : 2.6"}}}}}},
"strokeWidth":{"condition":{"test":"datum.key=='d' || datum.key=='b'","value":1},"value":2.8}}},
{"data":{"values":[{"x1":0.7935,"x2":0.997,"y1":0.0849,"y2":0.1402}]},"mark":{"type":"rect","fill":"white","stroke":"red","strokeWidth":1.2,"cornerRadius":6},"encoding":{"x":{"field":"x1","type":"quantitative","axis":null},"x2":{"field":"x2"},"y":{"field":"y1","type":"quantitative","axis":null},"y2":{"field":"y2"}}},
{"data":{"values":[{"x1":0.895,"y1":0.1126,"t":"Preliminary"}]},"mark":{"type":"text","color":"red","fontSize":23.5,"font":"DejaVu Sans","align":"center","baseline":"middle"},"encoding":{"x":{"field":"x1","type":"quantitative","axis":null},"y":{"field":"y1","type":"quantitative","axis":null},"text":{"field":"t"}}}
]
}
]
}
